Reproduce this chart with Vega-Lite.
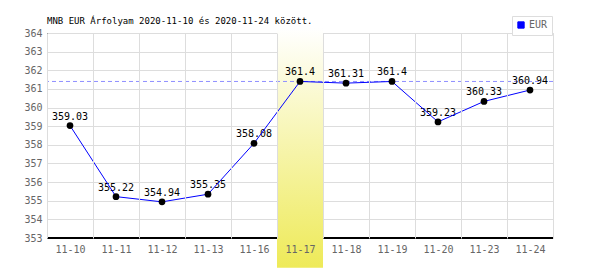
{
  "$schema": "https://vega.github.io/schema/vega-lite/v6.json",
  "width": 506,
  "height": 205,
  "autosize": "none",
  "padding": {"left": 47, "top": 33, "right": 47, "bottom": 32},
  "background": "white",
  "title": {
    "text": "MNB EUR Árfolyam 2020-11-10 és 2020-11-24 között.",
    "anchor": "start",
    "frame": "group",
    "font": "DejaVu Sans Mono",
    "fontSize": 9,
    "fontWeight": "normal",
    "color": "#000000",
    "offset": -10
  },
  "config": {
    "view": {"stroke": "#dddddd"},
    "axis": {"labelFont": "DejaVu Sans Mono", "labelFontSize": 10, "labelColor": "#666666", "gridColor": "#dddddd", "ticks": false, "labelOverlap": false},
    "axisY": {"domainColor": "#000000", "labelPadding": 5, "zindex": 0, "grid": true, "title": null}
  },
  "data": {
    "values": [
      {"d": "11-10", "v": 359.03, "s": "EUR"},
      {"d": "11-11", "v": 355.22, "s": "EUR"},
      {"d": "11-12", "v": 354.94, "s": "EUR"},
      {"d": "11-13", "v": 355.35, "s": "EUR"},
      {"d": "11-16", "v": 358.08, "s": "EUR"},
      {"d": "11-17", "v": 361.4, "s": "EUR"},
      {"d": "11-18", "v": 361.31, "s": "EUR"},
      {"d": "11-19", "v": 361.4, "s": "EUR"},
      {"d": "11-20", "v": 359.23, "s": "EUR"},
      {"d": "11-23", "v": 360.33, "s": "EUR"},
      {"d": "11-24", "v": 360.94, "s": "EUR"}
    ]
  },
  "encoding": {
    "x": {
      "field": "d", "type": "nominal",
      "sort": ["11-10", "11-11", "11-12", "11-13", "11-16", "11-17", "11-18", "11-19", "11-20", "11-23", "11-24"],
      "scale": {"type": "band", "paddingInner": 0, "paddingOuter": 0},
      "axis": {"title": null, "labelAngle": 0, "domain": false, "tickBand": "extent", "labelPadding": 6, "zindex": 1, "grid": true, "labelOverlap": false}
    },
    "y": {
      "field": "v", "type": "quantitative",
      "scale": {"domain": [353, 364], "nice": false, "zero": false},
      "axis": {"title": null, "values": [353, 354, 355, 356, 357, 358, 359, 360, 361, 362, 363, 364], "labelOverlap": false}
    }
  },
  "layer": [
    {
      "mark": {"type": "rule", "color": "#000000", "strokeWidth": 1},
      "encoding": {"x": null, "y": {"datum": 353, "type": "quantitative", "axis": {"title": null, "values": [353, 354, 355, 356, 357, 358, 359, 360, 361, 362, 363, 364], "labelOverlap": false}}}
    },
    {
      "transform": [{"filter": "datum.d == '11-17'"}],
      "mark": {
        "type": "rect",
        "fill": {
          "gradient": "linear", "x1": 0, "y1": 0, "x2": 0, "y2": 1,
          "stops": [{"offset": 0, "color": "#ffffff"}, {"offset": 1, "color": "#eeea58"}]
        }
      },
      "encoding": {
        "y": {"datum": 364.27, "type": "quantitative", "axis": {"title": null, "values": [353, 354, 355, 356, 357, 358, 359, 360, 361, 362, 363, 364], "labelOverlap": false}},
        "y2": {"datum": 351.4}
      }
    },
    {
      "mark": {"type": "rule", "color": "#8f8fff", "strokeDash": [4, 3], "strokeWidth": 1},
      "encoding": {"x": null, "y": {"aggregate": "max", "field": "v", "type": "quantitative", "axis": {"title": null, "values": [353, 354, 355, 356, 357, 358, 359, 360, 361, 362, 363, 364], "labelOverlap": false}}}
    },
    {
      "mark": {"type": "text", "font": "DejaVu Sans Mono", "fontSize": 10, "color": "#000000", "baseline": "alphabetic", "dy": -6},
      "encoding": {
        "text": {"field": "v", "type": "nominal"}
      }
    },
    {
      "mark": {"type": "line", "strokeWidth": 1},
      "encoding": {
        "color": {
          "field": "s", "type": "nominal",
          "scale": {"range": ["#0000ff"]},
          "legend": {
            "title": null, "orient": "none", "legendX": 465, "legendY": -17,
            "symbolType": "square", "symbolSize": 40, "symbolStrokeWidth": 1,
            "symbolFillColor": "#0000ff", "symbolStrokeColor": "#999999",
            "labelFont": "DejaVu Sans Mono", "labelFontSize": 10, "labelColor": "#666666",
            "strokeColor": "#dddddd", "fillColor": "#ffffff", "padding": 4, "labelOffset": 3
          }
        }
      }
    },
    {
      "mark": {"type": "circle", "color": "#000000", "opacity": 1, "size": 45}
    }
  ]
}
